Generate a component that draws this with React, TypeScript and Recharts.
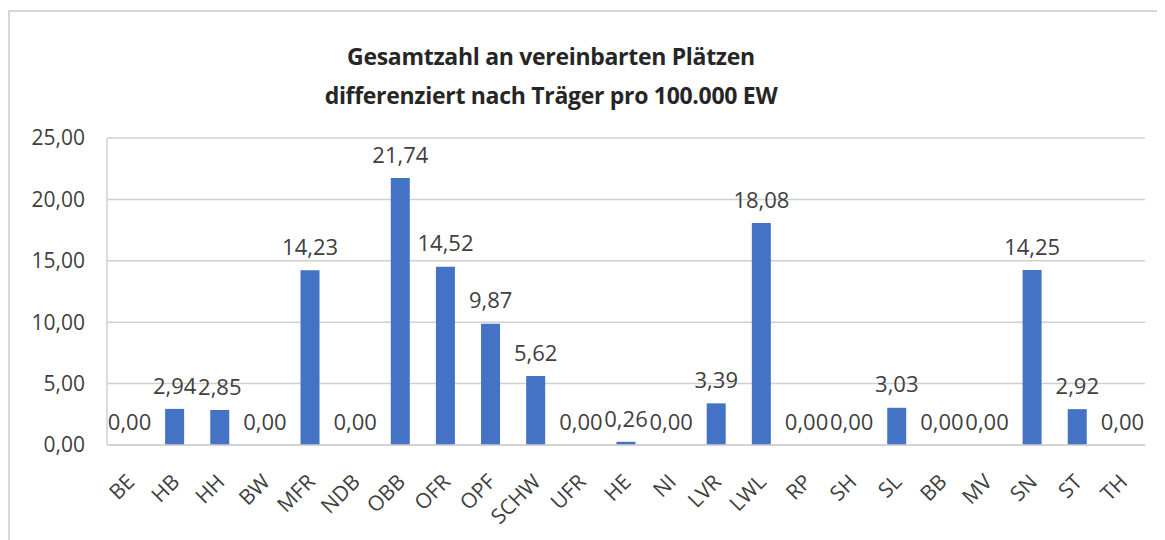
import React from 'react';
import { ComposedChart, Bar, Line, XAxis, YAxis, CartesianGrid, LabelList } from 'recharts';

const categories = ['BE', 'HB', 'HH', 'BW', 'MFR', 'NDB', 'OBB', 'OFR', 'OPF', 'SCHW', 'UFR', 'HE', 'NI', 'LVR', 'LWL', 'RP', 'SH', 'SL', 'BB', 'MV', 'SN', 'ST', 'TH'];
const values = [0, 2.94, 2.85, 0, 14.23, 0, 21.74, 14.52, 9.87, 5.62, 0, 0.26, 0, 3.39, 18.08, 0, 0, 3.03, 0, 0, 14.25, 2.92, 0];
const yTicks = [0, 5, 10, 15, 20, 25];

const data = categories.map((name, i) => ({ name, value: values[i] }));

const FONT = '"Open Sans", sans-serif';
const TEXT = '#404040';

// german decimal comma
const fmt = (v: number) => v.toFixed(2).replace('.', ',');

const XTick = (props: any) => {
  const { x, y, payload } = props;
  return (
    <g transform={`translate(${x + 1},${y + 25})`}>
      <text x={0} y={0} dy="0.35em" textAnchor="end" transform="rotate(-45)" fill={TEXT} fontSize={21} fontFamily={FONT}>
        {payload.value}
      </text>
    </g>
  );
};

// labels hang off an invisible line so the 0,00 values get one too
const ValueLabel = (props: any) => {
  const { x, y, value } = props;
  return (
    <text x={Number(x)} y={Number(y) - 23} textAnchor="middle" dy="0.35em" fill={TEXT} fontSize={22} fontFamily={FONT}>
      {fmt(Number(value))}
    </text>
  );
};

export default function App() {
  return (
    <div
      style={{
        position: 'relative',
        width: 1157,
        height: 532,
        marginTop: 2,
        borderTop: '2px solid #d6d6d6',
        borderLeft: '2px solid #d6d6d6',
        background: '#fff',
      }}
    >
      {/* title */}
      <div
        style={{
          position: 'absolute',
          left: 0,
          top: 25,
          width: 1082,
          textAlign: 'center',
          fontFamily: FONT,
          fontWeight: 700,
          fontSize: 23,
          letterSpacing: -0.3,
          lineHeight: '39px',
          color: '#262626',
        }}
      >
        Gesamtzahl an vereinbarten Plätzen
        <br />
        differenziert nach Träger pro 100.000 EW
      </div>
      <ComposedChart
        width={1155}
        height={528}
        data={data}
        margin={{ top: 126, right: 20, bottom: 15, left: 17 }}
      >
        <CartesianGrid vertical={false} stroke="#d0d0d0" strokeWidth={1.5} />
        <XAxis
          dataKey="name"
          interval={0}
          height={80}
          axisLine={{ stroke: '#d0d0d0', strokeWidth: 1.5 }}
          tickLine={false}
          tick={<XTick />}
        />
        <YAxis
          domain={[0, 25]}
          ticks={yTicks}
          width={80}
          tickFormatter={fmt}
          axisLine={{ stroke: '#d0d0d0', strokeWidth: 1.5 }}
          tickLine={false}
          tickMargin={16}
          tick={{ fill: TEXT, fontSize: 21, fontFamily: FONT }}
        />
        <Bar dataKey="value" fill="#4472c4" barSize={19} isAnimationActive={false} />
        <Line dataKey="value" stroke="none" dot={false} activeDot={false} isAnimationActive={false}>
          <LabelList dataKey="value" content={<ValueLabel />} />
        </Line>
      </ComposedChart>
    </div>
  );
}
